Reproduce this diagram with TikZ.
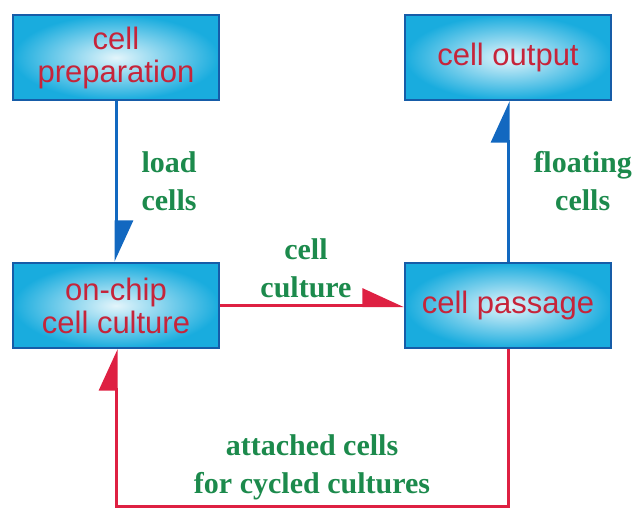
\documentclass[tikz,border=0pt]{standalone}
\usepackage{fontspec}
\setmainfont{Liberation Sans}
\newfontfamily\labelfont{Liberation Serif}
\usepackage{tikz}
\usepackage{xcolor}
\usetikzlibrary{arrows.meta}
\definecolor{boxcyan}{RGB}{25,172,222}
\definecolor{boxedge}{RGB}{22,92,168}
\definecolor{textred}{RGB}{198,36,58}
\definecolor{flowblue}{RGB}{18,104,192}
\definecolor{flowred}{RGB}{222,32,66}
\definecolor{labelgreen}{RGB}{28,138,76}

\begin{document}
\begin{tikzpicture}[x=1pt,y=-1pt,
        stage/.style={draw=boxedge, line width=2.5pt, inner color=boxcyan!12, outer color=boxcyan,
            minimum width=206pt, minimum height=85pt, inner sep=0pt, align=center,
            text=textred, font=\fontsize{31}{33}\selectfont},
        flowlabel/.style={text=labelgreen, align=center, inner sep=2pt,
            font=\labelfont\bfseries\fontsize{30}{38}\selectfont},
        blueflow/.style={draw=flowblue, line width=3pt, -{Triangle[left,length=38pt,width=34pt]}},
        redflow/.style={draw=flowred, line width=3pt, -{Triangle[left,length=38pt,width=34pt]}}]
                \useasboundingbox (0,0) rectangle (639,510);

                % Stages
                \node[stage] (prep) at (116,57.5) {cell\\preparation};
                \node[stage] (out) at (508,57.5) {cell output};
                \node[stage] (chip) at (116,305.5) {on-chip\\cell culture};
                \node[stage] (pass) at (508,305.5) {cell passage};

                % corners of the return loop
                \coordinate (loopR) at (508,506);
                \coordinate (loopL) at (116,506);

                % Flows
                \draw[blueflow] (prep) -- node[flowlabel, right=22pt] {load\\cells} (chip);
                \draw[blueflow] (pass) -- node[flowlabel, right=22pt] {floating\\cells} (out);
                \draw[redflow] (chip) -- node[flowlabel, above=4pt, xshift=-6pt] {cell\\culture} (pass);
                \draw[redflow] (pass.south) -- (loopR) -- node[flowlabel, above=3pt] {attached cells\\for cycled cultures} (loopL) -- (chip.south);
            \end{tikzpicture}
\end{document}
